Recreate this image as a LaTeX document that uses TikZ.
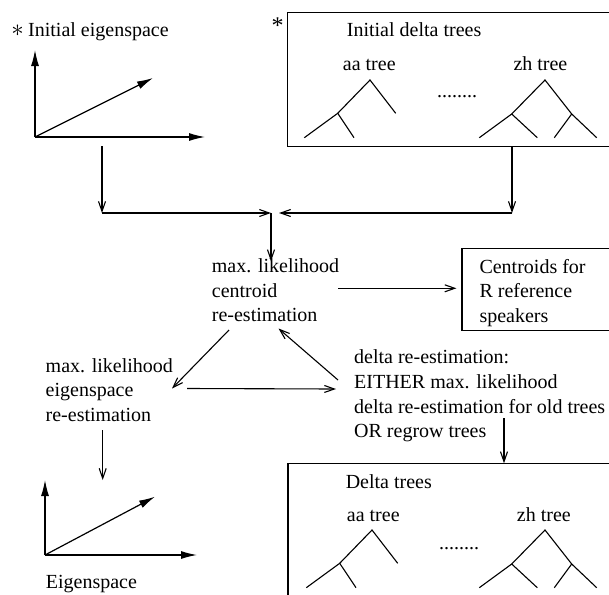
\documentclass[tikz,border=0pt]{standalone}
\usepackage{fontspec}
\setmainfont{Liberation Serif}
\usetikzlibrary{arrows.meta}
\tikzset{
  aatree/.pic={
    \draw[treeline] (-65.7,57.7) -- (-32.3,33.3) -- (0,0) -- (25.7,33.3);
    \draw[treeline] (-32.3,33.3) -- (-16,57.7);},
  zhtree/.pic={
    \draw[treeline] (-65.7,57.7) -- (-33.3,34) -- (0,0) -- (26.7,34) -- (51.7,57.7);
    \draw[treeline] (-33.3,34) -- (-7.7,57.7);
    \draw[treeline] (26.7,34) -- (9.3,57.7);}
}
\begin{document}
\begin{tikzpicture}[x=1pt,y=-1pt,
  conn/.style={line width=1.1pt,-{Straight Barb[length=10pt,width=7pt]}},
  axis/.style={line width=1.2pt,-{Latex[length=16pt,width=8pt]}},
  treeline/.style={line width=1.1pt},
  frame/.style={draw,line width=1.1pt,inner sep=0pt,anchor=north west},
  lbl/.style={inner sep=0pt,anchor=base west,font=\fontsize{20pt}{24.7pt}\selectfont},
  blk/.style={inner sep=0pt,anchor=north west,align=left,font=\fontsize{20pt}{24.7pt}\selectfont}]
\useasboundingbox (0,0) rectangle (609,594);
\clip (0,0) rectangle (609,594);
\fill[white] (0,0) rectangle (609,594);

% ---------- initial eigenspace ----------
\node[lbl,anchor=center,font=\fontsize{30pt}{30pt}\selectfont] (ast1) at (17.5,30.5) {$\ast$};
\node[lbl] (ieig) at (28,36.7) {Initial eigenspace};
\coordinate (o1) at (35,137);
\coordinate (o1y) at (35,50);
\coordinate (o1x) at (205,137);
\coordinate (o1d) at (153,78);
\draw[axis] (o1) -- (o1y);
\draw[axis] (o1) -- (o1x);
\draw[axis] (o1) -- (o1d);

% ---------- initial delta trees ----------
\node[lbl,anchor=base,font=\fontsize{24pt}{24pt}\selectfont] (ast2) at (277.5,34) {*};
\node[frame,minimum width=340pt,minimum height=133.4pt] (ibox) at (286.7,12.3) {};
\node[lbl] (idt) at (346.7,36.7) {Initial delta trees};
\node[lbl] (aa1) at (342.7,70) {aa tree};
\node[lbl] (zh1) at (513.3,70) {zh tree};
\node[lbl] (dots1) at (437,97.5) {........};
\pic at (370,80) {aatree};
\pic at (545,80) {zhtree};

% ---------- merge ----------
\coordinate (lA) at (102,146);
\coordinate (lB) at (102,213);
\coordinate (jL) at (271,213);
\coordinate (rB) at (512,213);
\coordinate (jR) at (279,213);
\draw[conn] (lA) -- (lB);
\draw[conn] (lB) -- (jL);
\draw[conn] (ibox.south -| rB) -- (rB);
\draw[conn] (rB) -- (jR);

% ---------- centroid re-estimation ----------
\node[blk] (mlc) at (211.7,258.3) {max. likelihood\\centroid\\re-estimation};
\draw[conn] (jL) -- ([yshift=-3pt]mlc.north -| jL);

\node[frame,minimum width=160pt,minimum height=82pt] (cbox) at (461.4,248) {};
\node[blk] (ctext) at (479.3,259) {Centroids for\\R reference\\speakers};
\coordinate (a1s) at (338,288.3);
\draw[conn] (a1s) -- ([xshift=-5pt]cbox.west |- a1s);

% ---------- eigenspace re-estimation ----------
\node[blk] (mle) at (45.5,358) {max. likelihood\\eigenspace\\re-estimation};
\coordinate (c2s) at (229,330);
\coordinate (c2e) at (172,388.5);
\draw[conn] (c2s) -- (c2e);

% ---------- delta re-estimation ----------
\node[blk] (dre) at (354,349.8) {delta re-estimation:\\EITHER max. likelihood\\delta re-estimation for old trees\\OR regrow trees};
\coordinate (e2s) at (187,388.5);
\coordinate (e2e) at (336,389);
\draw[conn] (e2s) -- (e2e);
\coordinate (d2s) at (338,380);
\coordinate (d2e) at (278.5,328.5);
\draw[conn] (d2s) -- (d2e);

% ---------- final eigenspace ----------
\coordinate (m2s) at (102.7,430);
\coordinate (o2) at (45,555);
\coordinate (o2y) at (45,480);
\coordinate (o2x) at (197,555);
\coordinate (o2d) at (155,496.7);
\draw[conn] (m2s) -- (m2s |- o2y);
\draw[axis] (o2) -- (o2y);
\draw[axis] (o2) -- (o2x);
\draw[axis] (o2) -- (o2d);
\node[lbl] (eig) at (45.7,588.3) {Eigenspace};

% ---------- delta trees ----------
\node[frame,minimum width=340pt,minimum height=160pt] (dbox) at (287.4,463.3) {};
\coordinate (t2s) at (504,418);
\draw[conn] (t2s) -- (t2s |- dbox.north);
\node[lbl] (dt) at (345.6,488.3) {Delta trees};
\node[lbl] (aa2) at (346.7,521.7) {aa tree};
\node[lbl] (zh2) at (516.7,521.7) {zh tree};
\node[lbl] (dots2) at (439,549) {........};
\pic at (372,530) {aatree};
\pic at (545,530) {zhtree};
\end{tikzpicture}
\end{document}
